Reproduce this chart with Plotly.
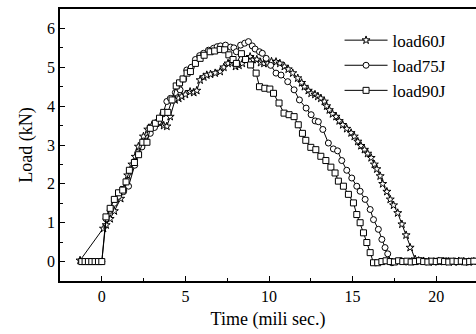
import plotly.graph_objects as go

# ---------------- data ----------------
t60 = [-1.3, 0.1, 0.26, 0.5, 0.75, 1.13, 1.35, 1.55, 1.8, 2.0, 2.19, 2.49, 2.75, 3.0, 3.2, 3.49,
       3.7, 3.89, 4.09, 4.38, 4.6, 4.78, 5.0, 5.28, 5.5, 5.68, 5.88, 6.1, 6.28, 6.5, 6.78, 7.08,
       7.3, 7.55, 7.77, 8.0, 8.2, 8.4, 8.65, 8.87, 9.05, 9.27, 9.5, 9.7, 9.93, 10.15, 10.42, 10.65,
       10.92, 11.15, 11.42, 11.72, 11.95, 12.12, 12.35, 12.52, 12.75, 12.92, 13.1, 13.31, 13.45,
       13.61, 13.8, 14.01, 14.2, 14.41, 14.65, 14.91, 15.1, 15.31, 15.5, 15.71, 15.9, 16.11, 16.3,
       16.45, 16.65, 16.8, 17.05, 17.25, 17.45, 17.7, 17.95, 18.2, 18.44, 18.74, 18.95, 19.25,
       19.55, 19.85, 20.15, 20.45, 20.75, 21.05, 21.35, 21.65, 21.95, 22.25]
v60 = [0.03, 0.85, 0.94, 1.1, 1.3, 1.62, 1.9, 2.22, 2.5, 2.7, 2.96, 3.22, 3.4, 3.5, 3.55, 3.55,
       3.5, 3.48, 3.73, 4.16, 4.2, 4.25, 4.3, 4.37, 4.35, 4.4, 4.67, 4.75, 4.8, 4.82, 4.85, 4.89,
       5.0, 5.1, 5.14, 5.02, 5.05, 5.1, 5.2, 5.27, 5.2, 5.2, 5.12, 5.1, 5.1, 5.15, 5.14, 5.1,
       5.02, 4.95, 4.85, 4.72, 4.6, 4.5, 4.4, 4.33, 4.3, 4.25, 4.2, 4.12, 4.0,
       3.9, 3.8, 3.73, 3.62, 3.52, 3.42, 3.31, 3.22, 3.09, 2.98, 2.88, 2.78, 2.67, 2.5,
       2.38, 2.2, 2.0, 1.8, 1.6, 1.45, 1.25, 0.96, 0.68, 0.36, 0.06, 0.02, 0.01,
       0.0, -0.01, 0.01, 0.0, 0.0, -0.01, 0.01, 0.0, -0.01, 0.0]

t75 = [-1.2, -1.0, -0.8, -0.6, -0.4, -0.2, 0.0, 0.26, 0.5, 0.75, 1.0, 1.3, 1.6, 1.97, 2.15, 2.4,
       2.65, 2.9, 3.15, 3.4, 3.65, 3.89, 4.1, 4.4, 4.68, 4.9, 5.08, 5.35, 5.6, 5.85, 6.08, 6.38,
       6.68, 6.9, 7.1, 7.4, 7.7, 7.9, 8.05, 8.3, 8.55, 8.77, 9.0, 9.17, 9.43, 9.6, 9.83, 10.1,
       10.42, 10.72, 11.12, 11.5, 11.82, 12.22, 12.52, 12.76, 12.95, 13.22, 13.55, 13.85, 14.1,
       14.35, 14.65, 14.95, 15.25, 15.45, 15.75, 16.05, 16.25, 16.54, 16.75, 16.94, 17.1, 17.35,
       17.6, 17.9, 18.2, 18.5, 18.8, 19.1, 19.4, 19.7, 20.0, 20.3, 20.6, 20.9, 21.2, 21.5, 21.8,
       22.1, 22.4]
v75 = [0.0, 0.0, 0.0, 0.0, 0.0, 0.0, 0.0, 1.1, 1.32, 1.5, 1.68, 1.8, 1.94, 2.48, 2.8, 2.95,
       3.1, 3.3, 3.45, 3.6, 3.8, 4.12, 4.2, 4.35, 4.42, 4.7, 4.93, 5.0, 5.2, 5.3, 5.36, 5.44,
       5.49, 5.53, 5.55, 5.57, 5.52, 5.5, 5.4, 5.57, 5.62, 5.66, 5.55, 5.47, 5.4, 5.36, 5.23, 5.05,
       4.85, 4.8, 4.63, 4.42, 4.16, 3.95, 3.78, 3.62, 3.6, 3.4, 3.05, 2.9, 2.85,
       2.6, 2.35, 2.15, 1.94, 1.81, 1.6, 1.34, 1.08, 0.83, 0.57, 0.36, 0.2, -0.03,
       0.0, 0.02, -0.01, 0.01, 0.0, 0.02, 0.0, -0.01, 0.01, 0.0, 0.02, 0.0, -0.01, 0.01, 0.0,
       0.01, 0.0]

t90 = [-1.2, -1.0, -0.8, -0.6, -0.4, -0.2, 0.0, 0.25, 0.5, 0.75, 1.0, 1.25, 1.45, 1.65, 1.95,
       2.2, 2.45, 2.7, 2.9, 3.2, 3.45, 3.7, 3.95, 4.2, 4.45, 4.65, 4.86, 5.1, 5.3, 5.6, 5.88,
       6.12, 6.48, 6.75, 7.08, 7.35, 7.6, 7.85, 8.05, 8.35, 8.6, 8.9, 9.23, 9.43, 9.75, 10.05,
       10.27, 10.6, 10.9, 11.2, 11.5, 11.75, 12.0, 12.2, 12.5, 12.8, 13.1, 13.4, 13.7, 13.95,
       14.15, 14.45, 14.75, 15.05, 15.25, 15.45, 15.65, 15.85, 16.05, 16.25, 16.5, 16.75, 17.0,
       17.25, 17.5, 17.75, 18.0, 18.25, 18.5, 18.75, 19.0, 19.25, 19.5, 19.75, 20.0, 20.25,
       20.5, 20.75, 21.0, 21.25, 21.5, 21.75, 22.0, 22.25]
v90 = [0.0, 0.0, 0.0, 0.0, 0.0, 0.0, 0.0, 1.15, 1.37, 1.6, 1.77, 1.84, 2.05, 2.35, 2.55,
       2.75, 3.07, 3.07, 3.43, 3.56, 3.69, 3.84, 3.84, 4.16, 4.52, 4.6, 4.7, 4.85, 4.89, 5.1, 5.23,
       5.31, 5.4, 5.42, 5.46, 5.45, 5.32, 5.2, 5.1, 5.35, 5.2, 5.06, 4.85, 4.5, 4.46, 4.44,
       4.33, 4.08, 3.82, 3.78, 3.73, 3.52, 3.3, 3.12, 2.94, 2.88, 2.71, 2.6, 2.43, 2.28,
       2.07, 1.94, 1.73, 1.51, 1.21, 1.0, 0.74, 0.49, 0.23, -0.03, -0.03, 0.0, 0.02,
       0.0, -0.01, 0.02, 0.0, 0.01, -0.01, 0.0, 0.02, 0.0, -0.01, 0.01, 0.0, 0.02,
       0.0, -0.01, 0.01, 0.0, 0.01, -0.01, 0.0, 0.01]

series = [("load60J", t60, v60, "star"),
          ("load75J", t75, v75, "circle"),
          ("load90J", t90, v90, "square")]

FONT = "Liberation Serif, Times New Roman, serif"

fig = go.Figure()
for name, t, v, sym in series:
    fig.add_trace(go.Scatter(
        x=t, y=v, name=name, mode="lines+markers",
        line=dict(color="black", width=1),
        marker=dict(symbol=sym, size=6, color="white",
                    line=dict(color="black", width=1)),
    ))

axis_common = dict(
    showline=True, linecolor="black", linewidth=1.5,
    ticks="inside", tickcolor="black", ticklen=5, tickwidth=1,
    showgrid=False, zeroline=False,
    tickfont=dict(family=FONT, size=16, color="black"),
)

fig.update_xaxes(
    range=[-2.5, 22.38], tickvals=[0, 5, 10, 15, 20], mirror=True,
    minor=dict(ticks="inside", ticklen=3, tickcolor="black", dtick=2.5, tick0=0),
    title=dict(text="Time (mili sec.)", font=dict(family=FONT, size=18, color="black"), standoff=8),
    **axis_common,
)
fig.update_yaxes(
    range=[-0.5, 6.5], tickvals=[0, 1, 2, 3, 4, 5, 6], mirror=False,
    minor=dict(ticks="inside", ticklen=3, tickcolor="black", dtick=0.5, tick0=0),
    title=dict(text="Load (kN)", font=dict(family=FONT, size=18, color="black"), standoff=10),
    **axis_common,
)

fig.update_layout(
    width=476, height=334,
    margin=dict(l=60, r=0, t=9, b=53),
    plot_bgcolor="white", paper_bgcolor="white",
    showlegend=True,
    legend=dict(x=0.672, y=0.95, xanchor="left", yanchor="top",
                bgcolor="rgba(0,0,0,0)", itemwidth=43,
                font=dict(family=FONT, size=17, color="black"),
                tracegroupgap=0),
)

fig.write_html("out.html")
